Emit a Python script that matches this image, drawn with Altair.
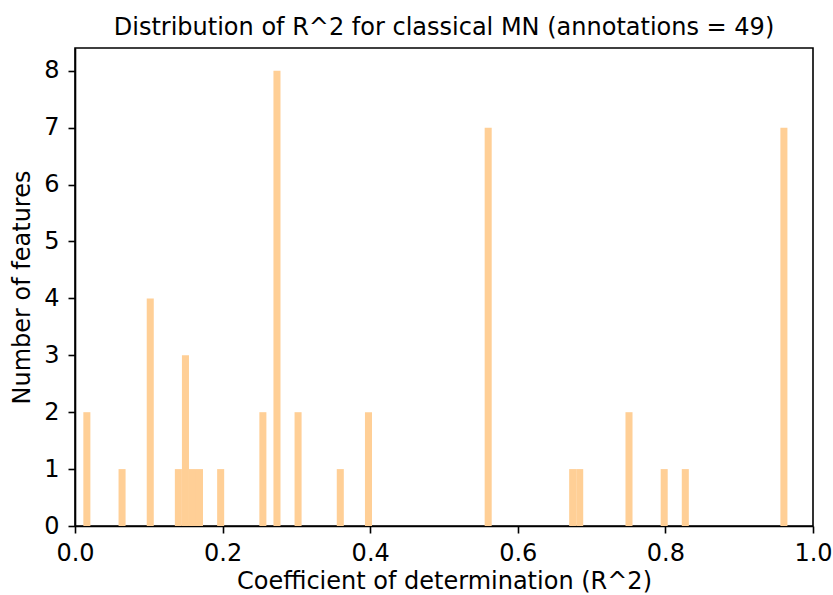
import altair as alt
import pandas as pd

# Histogram bins (left edge of each non-empty bin) and counts
bin_left = [0.0113, 0.0590, 0.0972, 0.1353, 0.1449, 0.1544, 0.1639, 0.1926,
            0.2498, 0.2689, 0.2975, 0.3547, 0.3929, 0.5551, 0.6696, 0.6791,
            0.7459, 0.7936, 0.8222, 0.9558]
counts = [2, 1, 4, 1, 3, 1, 1, 1, 2, 8, 2, 1, 2, 7, 1, 1, 2, 1, 1, 7]
bin_width = 0.00954
x_ticks = [0.0, 0.2, 0.4, 0.6, 0.8, 1.0]
y_ticks = [0, 1, 2, 3, 4, 5, 6, 7, 8]

df = pd.DataFrame({"left": bin_left, "count": counts})

FONT = "DejaVu Sans"

chart = (
    alt.Chart(df)
    .transform_calculate(right=f"datum.left + {bin_width}")
    .mark_rect(color="#FFCF96")
    .encode(
        x=alt.X(
            "left:Q",
            scale=alt.Scale(domain=[0, 1], nice=False, zero=False),
            axis=alt.Axis(
                title="Coefficient of determination (R^2)",
                values=x_ticks,
                format=".1f",
                grid=False,
                labelFlush=False,
            ),
        ),
        x2="right:Q",
        y=alt.Y(
            "count:Q",
            scale=alt.Scale(domain=[0, 8.4], nice=False),
            axis=alt.Axis(
                title="Number of features",
                values=y_ticks,
                format="d",
                grid=False,
            ),
        ),
        y2=alt.datum(0),
    )
    .properties(
        width=738,
        height=478,
        title=alt.TitleParams(
            "Distribution of R^2 for classical MN (annotations = 49)",
            font=FONT,
            fontSize=24,
            fontWeight="normal",
            color="black",
            offset=8,
        ),
        autosize=alt.AutoSizeParams(type="none"),
        padding={"left": 75, "top": 48, "right": 20, "bottom": 69},
    )
    .configure_view(stroke="black", strokeWidth=1.6)
    .configure_axis(
        domainColor="black",
        domainWidth=1.6,
        tickColor="black",
        tickWidth=1.6,
        tickSize=7,
        labelFont=FONT,
        labelFontSize=24,
        labelColor="black",
        titleFont=FONT,
        titleFontSize=24,
        titleFontWeight="normal",
        titleColor="black",
    )
    .configure_axisX(labelPadding=8, titlePadding=4)
    .configure_axisY(labelPadding=9, titlePadding=9)
)

chart.save("out.html", embed_options={"renderer": "svg", "actions": False})
